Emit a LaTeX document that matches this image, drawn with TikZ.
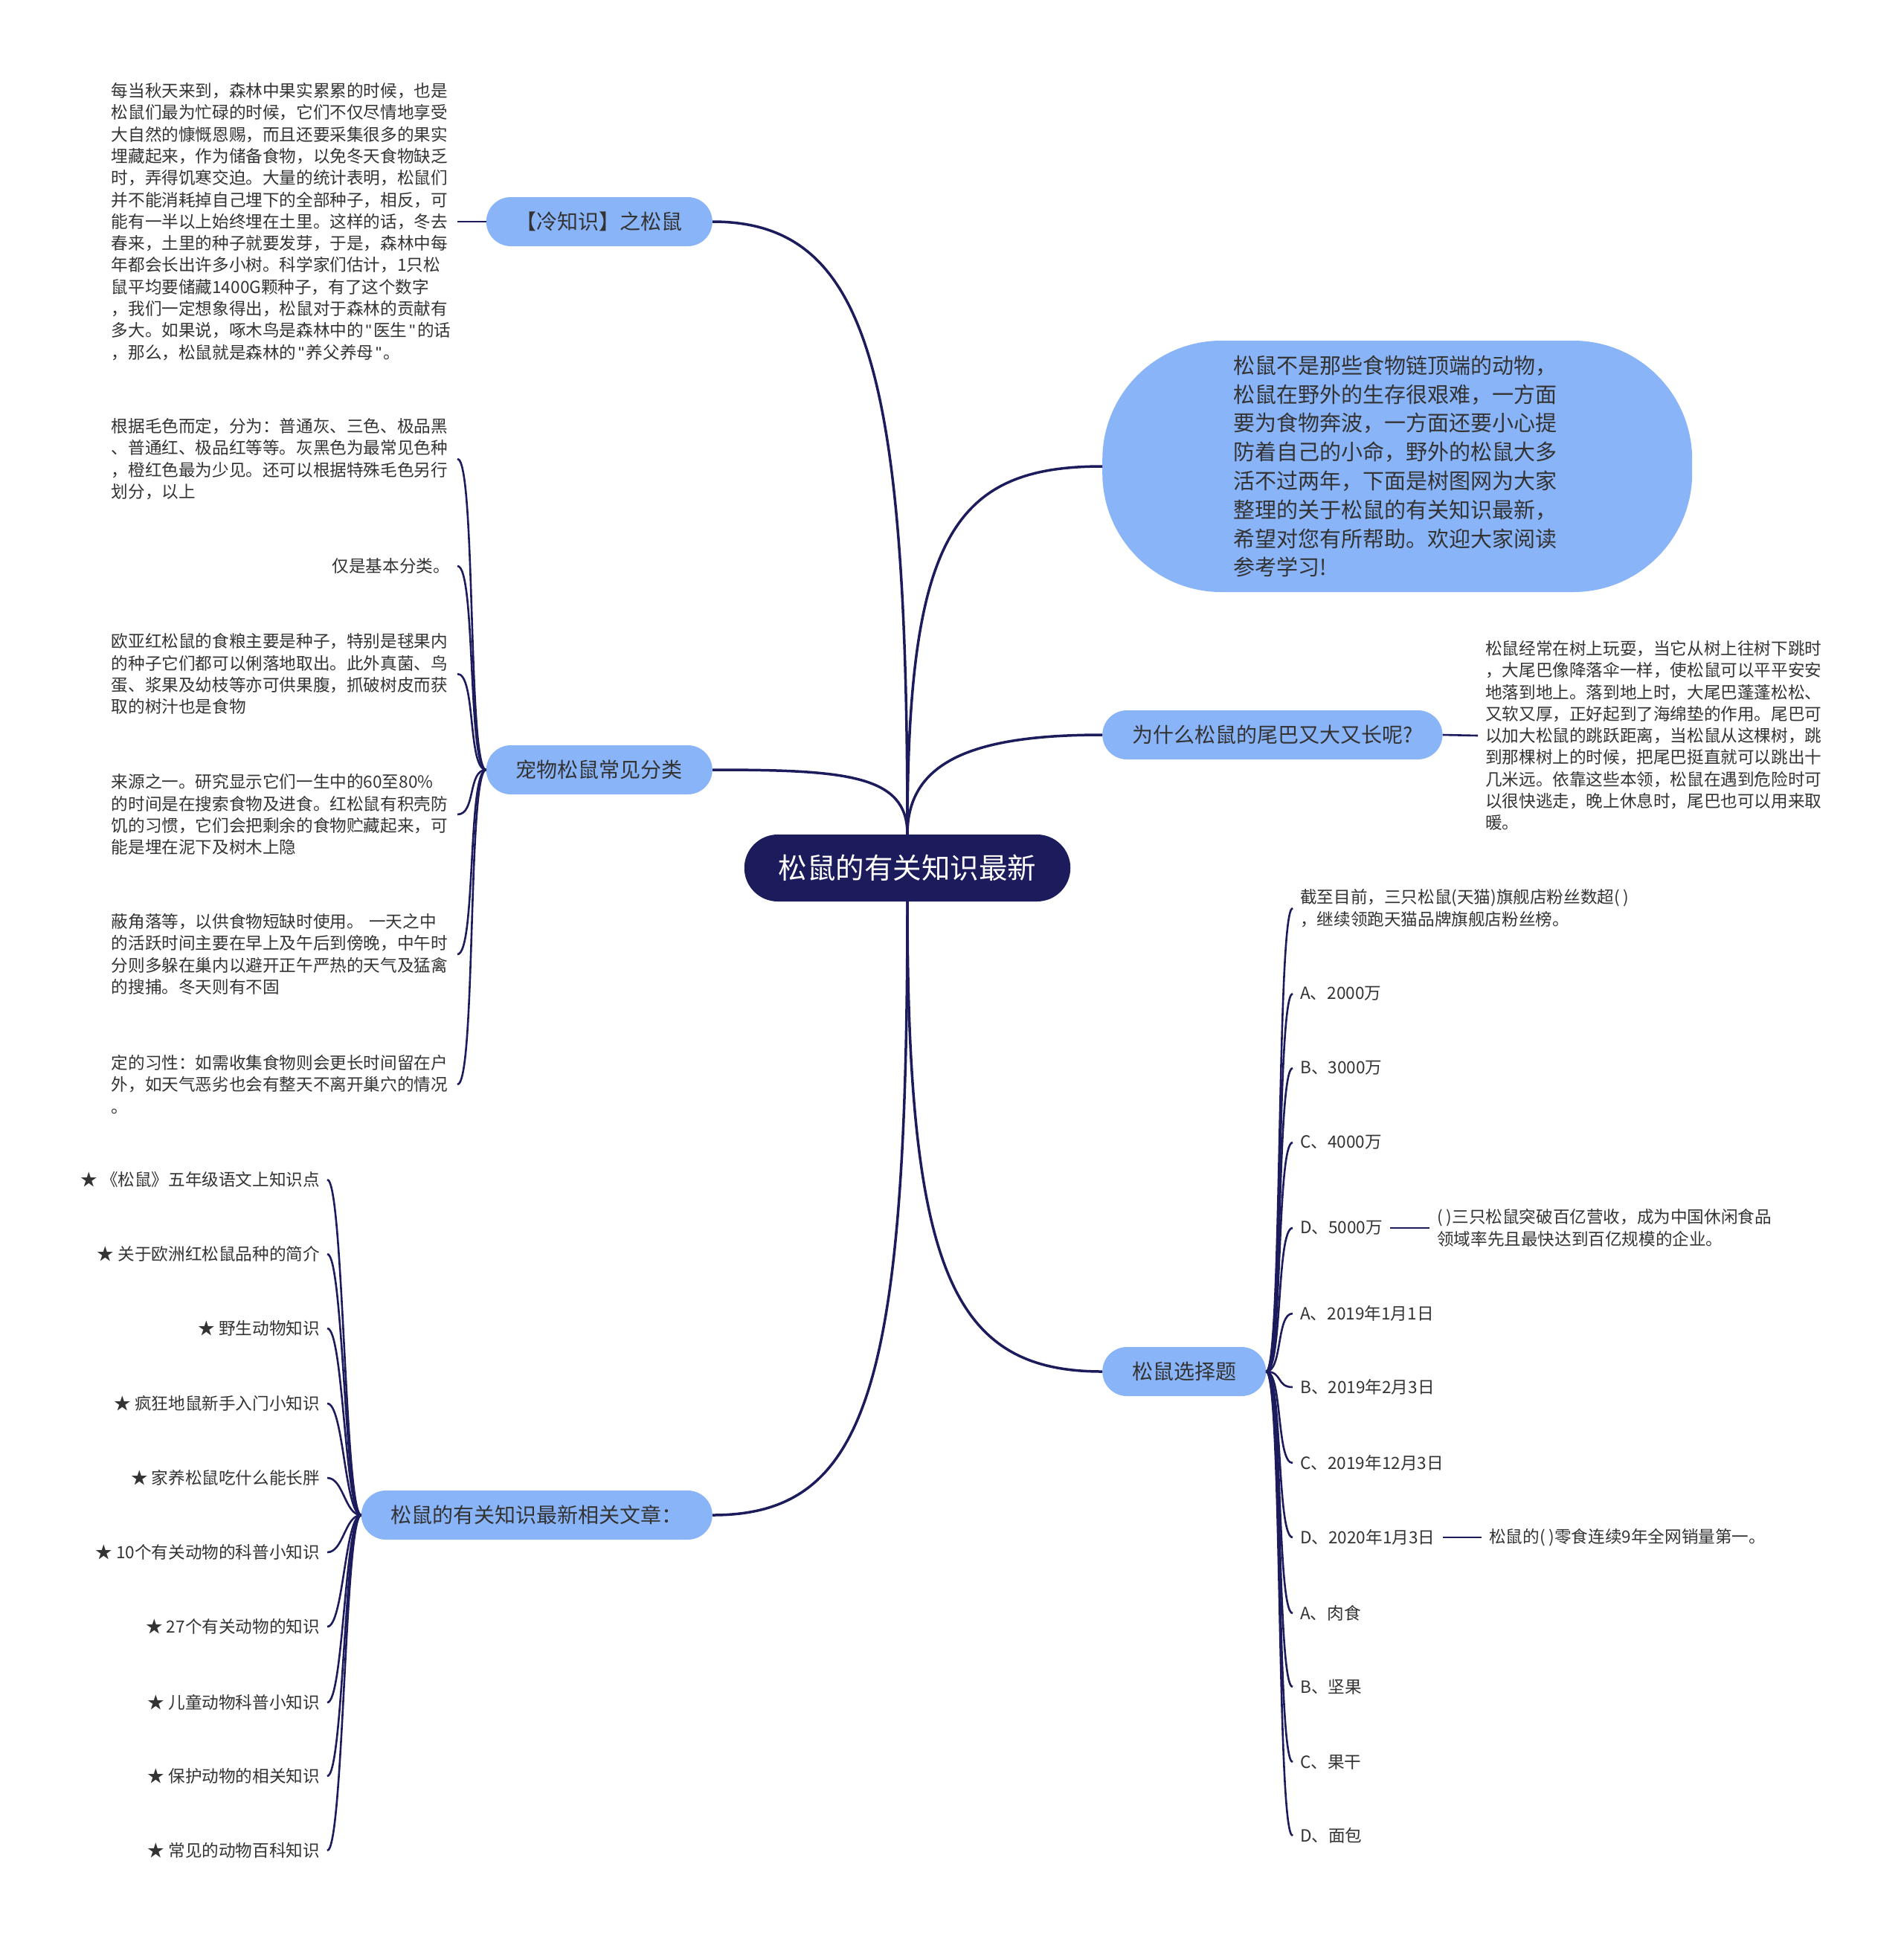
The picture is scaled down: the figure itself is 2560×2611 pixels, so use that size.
\documentclass[tikz,border=0pt]{standalone}
\usepackage{tikz}
\usepackage{fontspec}
\setmainfont{Noto Sans CJK SC}
\newfontfamily\latinfont{Liberation Sans}
\newcommand{\qmark}{\makebox[0.6em]{\latinfont"}}
\definecolor{navy}{RGB}{28,27,92}
\definecolor{skyblue}{RGB}{138,180,248}
\definecolor{ink}{RGB}{51,51,51}
\begin{document}
\begin{tikzpicture}[x=1pt,y=-1pt,
 root/.style={fill=navy,text=white,rounded corners=45pt,minimum height=90pt,inner xsep=46pt,font=\fontsize{38.5}{46}\selectfont},
 topic/.style={fill=skyblue,text=ink,rounded corners=33pt,minimum height=66pt,inner xsep=40pt,font=\fontsize{28}{34}\selectfont},
 leaf/.style={text=ink,align=left,inner xsep=10pt,inner ysep=3pt,font=\fontsize{22.6}{29.3}\selectfont},
 para/.style={leaf,text width=455pt},
 link/.style={draw=navy,line width=3.5pt},
 twig/.style={draw=navy,line width=2.6pt}]
 \useasboundingbox (0,0) rectangle (2560,2611);
 \node[root] (sq) at (1220,1167) {松鼠的有关知识最新};
 \node[topic,anchor=east] (lk) at (958,298) {【冷知识】之松鼠};
 \node[topic,anchor=east] (pet) at (958,1035) {宠物松鼠常见分类};
 \node[topic,anchor=east] (art) at (958,2037) {松鼠的有关知识最新相关文章：};
 \node[topic,anchor=west,rounded corners=160pt,minimum width=793pt,minimum height=338pt,text width=440pt,align=left,font=\fontsize{29}{38.8}\selectfont] (intro) at (1482,627) {松鼠不是那些食物链顶端的动物，\\松鼠在野外的生存很艰难，一方面\\要为食物奔波，一方面还要小心提\\防着自己的小命，野外的松鼠大多\\活不过两年，下面是树图网为大家\\整理的关于松鼠的有关知识最新，\\希望对您有所帮助。欢迎大家阅读\\参考学习!};
 \node[topic,anchor=west] (why) at (1482,988) {为什么松鼠的尾巴又大又长呢?};
 \node[topic,anchor=west] (quiz) at (1482,1844) {松鼠选择题};
 \draw[link] (sq.north) .. controls +(0,-620) and +(210,0) .. (lk.east);
 \draw[link] (sq.north) .. controls +(0,-80) and +(180,0) .. (pet.east);
 \draw[link] (sq.south) .. controls +(0,650) and +(210,0) .. (art.east);
 \draw[link] (sq.north) .. controls +(0,-400) and +(-200,0) .. (intro.west);
 \draw[link] (sq.north) .. controls +(0,-100) and +(-170,0) .. (why.west);
 \draw[link] (sq.south) .. controls +(0,500) and +(-200,0) .. (quiz.west);
 \node[para,anchor=east] (lk1) at (615,298) {每当秋天来到，森林中果实累累的时候，也是\\松鼠们最为忙碌的时候，它们不仅尽情地享受\\大自然的慷慨恩赐，而且还要采集很多的果实\\埋藏起来，作为储备食物，以免冬天食物缺乏\\时，弄得饥寒交迫。大量的统计表明，松鼠们\\并不能消耗掉自己埋下的全部种子，相反，可\\能有一半以上始终埋在土里。这样的话，冬去\\春来，土里的种子就要发芽，于是，森林中每\\年都会长出许多小树。科学家们估计，1只松\\鼠平均要储藏1400G颗种子，有了这个数字\\，我们一定想象得出，松鼠对于森林的贡献有\\多大。如果说，啄木鸟是森林中的\qmark 医生\qmark 的话\\，那么，松鼠就是森林的\qmark 养父养母\qmark 。};
 \draw[twig] (lk1.east) -- (lk.west);
 \node[para,anchor=east] (pet1) at (615,617) {根据毛色而定，分为：普通灰、三色、极品黑\\、普通红、极品红等等。灰黑色为最常见色种\\，橙红色最为少见。还可以根据特殊毛色另行\\划分，以上};
 \node[leaf,anchor=east] (pet2) at (615,761) {仅是基本分类。};
 \node[para,anchor=east] (pet3) at (615,906) {欧亚红松鼠的食粮主要是种子，特别是毬果内\\的种子它们都可以俐落地取出。此外真菌、鸟\\蛋、浆果及幼枝等亦可供果腹，抓破树皮而获\\取的树汁也是食物};
 \node[para,anchor=east] (pet4) at (615,1095) {来源之一。研究显示它们一生中的60至80\%\\的时间是在搜索食物及进食。红松鼠有积壳防\\饥的习惯，它们会把剩余的食物贮藏起来，可\\能是埋在泥下及树木上隐};
 \node[para,anchor=east] (pet5) at (615,1283) {蔽角落等，以供食物短缺时使用。 一天之中\\的活跃时间主要在早上及午后到傍晚，中午时\\分则多躲在巢内以避开正午严热的天气及猛禽\\的搜捕。冬天则有不固};
 \node[para,anchor=east] (pet6) at (615,1458) {定的习性：如需收集食物则会更长时间留在户\\外，如天气恶劣也会有整天不离开巢穴的情况\\。};
 \draw[twig] (pet1.east) .. controls +(25,0) and +(-25,0) .. (pet.west);
 \draw[twig] (pet2.east) .. controls +(25,0) and +(-25,0) .. (pet.west);
 \draw[twig] (pet3.east) .. controls +(25,0) and +(-25,0) .. (pet.west);
 \draw[twig] (pet4.east) .. controls +(25,0) and +(-25,0) .. (pet.west);
 \draw[twig] (pet5.east) .. controls +(25,0) and +(-25,0) .. (pet.west);
 \draw[twig] (pet6.east) .. controls +(25,0) and +(-25,0) .. (pet.west);
 \node[leaf,anchor=east] (art1) at (440,1586) {★ 《松鼠》五年级语文上知识点};
 \node[leaf,anchor=east] (art2) at (440,1686) {★ 关于欧洲红松鼠品种的简介};
 \node[leaf,anchor=east] (art3) at (440,1786) {★ 野生动物知识};
 \node[leaf,anchor=east] (art4) at (440,1887) {★ 疯狂地鼠新手入门小知识};
 \node[leaf,anchor=east] (art5) at (440,1987) {★ 家养松鼠吃什么能长胖};
 \node[leaf,anchor=east] (art6) at (440,2087) {★ 10个有关动物的科普小知识};
 \node[leaf,anchor=east] (art7) at (440,2187) {★ 27个有关动物的知识};
 \node[leaf,anchor=east] (art8) at (440,2289) {★ 儿童动物科普小知识};
 \node[leaf,anchor=east] (art9) at (440,2388) {★ 保护动物的相关知识};
 \node[leaf,anchor=east] (art10) at (440,2488) {★ 常见的动物百科知识};
 \draw[twig] (art1.east) .. controls +(22,0) and +(-22,0) .. (art.west);
 \draw[twig] (art2.east) .. controls +(22,0) and +(-22,0) .. (art.west);
 \draw[twig] (art3.east) .. controls +(22,0) and +(-22,0) .. (art.west);
 \draw[twig] (art4.east) .. controls +(22,0) and +(-22,0) .. (art.west);
 \draw[twig] (art5.east) .. controls +(22,0) and +(-22,0) .. (art.west);
 \draw[twig] (art6.east) .. controls +(22,0) and +(-22,0) .. (art.west);
 \draw[twig] (art7.east) .. controls +(22,0) and +(-22,0) .. (art.west);
 \draw[twig] (art8.east) .. controls +(22,0) and +(-22,0) .. (art.west);
 \draw[twig] (art9.east) .. controls +(22,0) and +(-22,0) .. (art.west);
 \draw[twig] (art10.east) .. controls +(22,0) and +(-22,0) .. (art.west);
 \node[para,anchor=west] (why1) at (1987,989) {松鼠经常在树上玩耍，当它从树上往树下跳时\\，大尾巴像降落伞一样，使松鼠可以平平安安\\地落到地上。落到地上时，大尾巴蓬蓬松松、\\又软又厚，正好起到了海绵垫的作用。尾巴可\\以加大松鼠的跳跃距离，当松鼠从这棵树，跳\\到那棵树上的时候，把尾巴挺直就可以跳出十\\几米远。依靠这些本领，松鼠在遇到危险时可\\以很快逃走，晚上休息时，尾巴也可以用来取\\暖。};
 \draw[twig] (why.east) -- (why1.west);
 \node[leaf,anchor=west] (q1) at (1738,1221) {截至目前，三只松鼠(天猫)旗舰店粉丝数超( )\\，继续领跑天猫品牌旗舰店粉丝榜。};
 \node[leaf,anchor=west] (q2) at (1738,1336) {A、2000万};
 \node[leaf,anchor=west] (q3) at (1738,1436) {B、3000万};
 \node[leaf,anchor=west] (q4) at (1738,1536) {C、4000万};
 \node[leaf,anchor=west] (q5) at (1738,1651) {D、5000万};
 \node[leaf,anchor=west] (q6) at (1738,1766) {A、2019年1月1日};
 \node[leaf,anchor=west] (q7) at (1738,1865) {B、2019年2月3日};
 \node[leaf,anchor=west] (q8) at (1738,1967) {C、2019年12月3日};
 \node[leaf,anchor=west] (q9) at (1738,2067) {D、2020年1月3日};
 \node[leaf,anchor=west] (q10) at (1738,2169) {A、肉食};
 \node[leaf,anchor=west] (q11) at (1738,2268) {B、坚果};
 \node[leaf,anchor=west] (q12) at (1738,2369) {C、果干};
 \node[leaf,anchor=west] (q13) at (1738,2468) {D、面包};
 \draw[twig] (quiz.east) .. controls +(22,0) and +(-22,0) .. (q1.west);
 \draw[twig] (quiz.east) .. controls +(22,0) and +(-22,0) .. (q2.west);
 \draw[twig] (quiz.east) .. controls +(22,0) and +(-22,0) .. (q3.west);
 \draw[twig] (quiz.east) .. controls +(22,0) and +(-22,0) .. (q4.west);
 \draw[twig] (quiz.east) .. controls +(22,0) and +(-22,0) .. (q5.west);
 \draw[twig] (quiz.east) .. controls +(22,0) and +(-22,0) .. (q6.west);
 \draw[twig] (quiz.east) .. controls +(22,0) and +(-22,0) .. (q7.west);
 \draw[twig] (quiz.east) .. controls +(22,0) and +(-22,0) .. (q8.west);
 \draw[twig] (quiz.east) .. controls +(22,0) and +(-22,0) .. (q9.west);
 \draw[twig] (quiz.east) .. controls +(22,0) and +(-22,0) .. (q10.west);
 \draw[twig] (quiz.east) .. controls +(22,0) and +(-22,0) .. (q11.west);
 \draw[twig] (quiz.east) .. controls +(22,0) and +(-22,0) .. (q12.west);
 \draw[twig] (quiz.east) .. controls +(22,0) and +(-22,0) .. (q13.west);
 \node[leaf,anchor=west] (q5a) at (1922,1651) {( )三只松鼠突破百亿营收，成为中国休闲食品\\领域率先且最快达到百亿规模的企业。};
 \node[leaf,anchor=west] (q9a) at (1992,2067) {松鼠的( )零食连续9年全网销量第一。};
 \draw[twig] (q5.east) -- (q5a.west);
 \draw[twig] (q9.east) -- (q9a.west);
\end{tikzpicture}
\end{document}
